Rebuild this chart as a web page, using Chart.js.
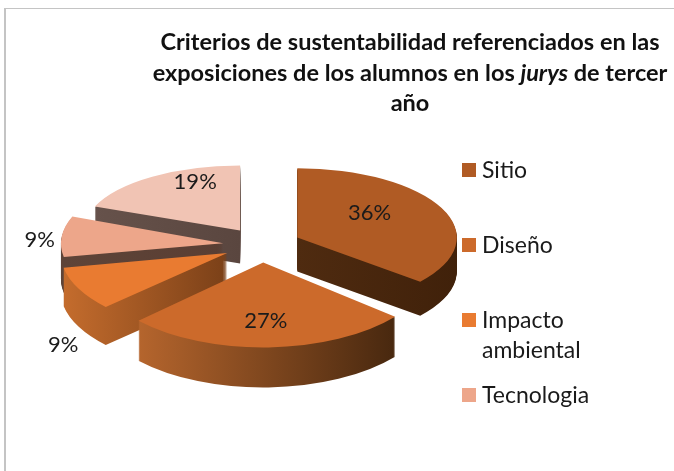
<!DOCTYPE html>
<html>
<head>
<meta charset="utf-8">
<script src="https://cdn.jsdelivr.net/npm/chart.js@4.4.1/dist/chart.umd.min.js"></script>
<style>
  html, body { margin: 0; padding: 0; background: #fff; }
  #wrap { position: relative; width: 674px; height: 471px; }
</style>
</head>
<body>
<div id="wrap"><canvas id="chart" width="674" height="471"></canvas></div>
<script>
// data
const categories = ["Sitio", "Diseño", "Impacto ambiental", "Tecnologia", ""];
const values = [36, 27, 9, 9, 19];
const titleLines = [
  [["Criterios de sustentabilidad referenciados en las", false]],
  [["exposiciones de los alumnos en los ", false], ["jurys", true], [" de tercer", false]],
  [["año", false]]
];

// styles
const topColors = ["#b05b24", "#cc6a2b", "#e97b31", "#eda68a", "#f1c4b4"];
const sideColors = [
  ["#4f2b10", "#40210a"],
  ["#b5652d", "#48280f"],
  ["#c46c2d", "#7a4018"],
  ["#5e4438", "#5a3e33"],
  ["#66524b", "#5a463f"]
];
const FONT = "Lato, 'Open Sans', sans-serif";
const TILT = 0.45;
const DEPTH = 36;
const EXPLODE = 39;
const RADIUS = 163;

function midAngle(arc) {
  return (arc.startAngle + arc.endAngle) / 2;
}

function drawArc(ctx, arc, color) {
  const shade = Object.create(arc);
  shade.options = Object.assign({}, arc.options, { backgroundColor: color, borderWidth: 0, offset: 0 });
  arc.draw.call(shade, ctx);
}

const pie3d = {
  id: "pie3d",
  beforeDraw(chart) {
    const ctx = chart.ctx;
    ctx.save();
    ctx.fillStyle = "#c4c4c4";
    ctx.fillRect(4, 8, 2, chart.height);
    ctx.fillRect(4, 8, chart.width, 1);
    ctx.restore();
  },
  beforeDatasetsDraw(chart) {
    const ctx = chart.ctx;
    const arcs = chart.getDatasetMeta(0).data;
    const area = chart.chartArea;
    const cy = (area.top + area.bottom) / 2;
    const order = arcs.map((a, i) => i)
      .sort((i, j) => Math.sin(midAngle(arcs[i])) - Math.sin(midAngle(arcs[j])));

    order.forEach(i => {
      const arc = arcs[i];
      const m = midAngle(arc);
      const s = Math.sin(m);
      const ex = Math.cos(m) * EXPLODE;
      const ey = s * EXPLODE * TILT;
      // rough perspective: slices nearer the viewer look a little larger
      const sx = 1 + 0.05 * s;
      const sy = (74 + 11 * s) / RADIUS;
      const depth = Math.round(DEPTH + 4 * s);

      // horizontal extent of the slice for the side gradient
      let x0 = arc.x, x1 = arc.x;
      for (let k = 0; k <= 40; k++) {
        const t = arc.startAngle + (arc.endAngle - arc.startAngle) * k / 40;
        const x = arc.x + arc.outerRadius * Math.cos(t);
        x0 = Math.min(x0, x);
        x1 = Math.max(x1, x);
      }
      const grad = ctx.createLinearGradient(x0, 0, x1, 0);
      grad.addColorStop(0, sideColors[i][0]);
      grad.addColorStop(1, sideColors[i][1]);

      for (let d = depth; d >= 0; d--) {
        ctx.save();
        ctx.translate(arc.x + ex, cy + ey + d);
        ctx.scale(sx, sy);
        ctx.translate(-arc.x, -cy);
        drawArc(ctx, arc, d === 0 ? topColors[i] : grad);
        ctx.restore();
      }
    });
    return false;
  },
  afterDraw(chart) {
    const ctx = chart.ctx;
    const arcs = chart.getDatasetMeta(0).data;
    const area = chart.chartArea;
    const cy = (area.top + area.bottom) / 2;

    // percentage labels
    ctx.save();
    ctx.fillStyle = "#1b1b1b";
    ctx.font = "22px " + FONT;
    ctx.textAlign = "center";
    ctx.textBaseline = "middle";
    arcs.forEach((arc, i) => {
      const m = midAngle(arc);
      const bx = arc.x + Math.cos(m) * EXPLODE;
      const by = cy + Math.sin(m) * EXPLODE * TILT;
      let x, y;
      if (values[i] >= 10) {
        x = bx + Math.cos(m) * arc.outerRadius * 0.49;
        y = by + Math.sin(m) * arc.outerRadius * TILT * 0.8;
      } else {
        x = bx + Math.cos(m) * arc.outerRadius * 1.13;
        y = by + Math.sin(m) * arc.outerRadius * 1.07 + 13;
      }
      ctx.fillText(values[i] + "%", x, y);
    });
    ctx.restore();

    // legend (items without a name are not listed)
    ctx.save();
    ctx.font = "23px " + FONT;
    ctx.textAlign = "left";
    ctx.textBaseline = "alphabetic";
    let n = 0;
    categories.forEach((name, i) => {
      if (!name) return;
      const yc = 170 + n * 75;
      ctx.fillStyle = topColors[i];
      ctx.fillRect(462, yc - 7, 14, 14);
      ctx.fillStyle = "#1a1a1a";
      const lines = [];
      let cur = "";
      name.split(" ").forEach(w => {
        const test = cur ? cur + " " + w : w;
        if (cur && ctx.measureText(test).width > 170) {
          lines.push(cur);
          cur = w;
        } else {
          cur = test;
        }
      });
      lines.push(cur);
      lines.forEach((l, k) => ctx.fillText(l, 482, yc + 8 + k * 30));
      n++;
    });
    ctx.restore();

    // title with an italic word
    ctx.save();
    ctx.fillStyle = "#111";
    ctx.textBaseline = "alphabetic";
    ctx.textAlign = "left";
    const fontOf = it => (it ? "italic " : "") + "bold 23.5px " + FONT;
    titleLines.forEach((parts, k) => {
      let w = 0;
      parts.forEach(([t, it]) => { ctx.font = fontOf(it); w += ctx.measureText(t).width; });
      let x = 410 - w / 2;
      parts.forEach(([t, it]) => {
        ctx.font = fontOf(it);
        ctx.fillText(t, x, 50 + k * 30.5);
        x += ctx.measureText(t).width;
      });
    });
    ctx.restore();
  }
};

new Chart(document.getElementById("chart"), {
  type: "pie",
  data: {
    labels: categories,
    datasets: [{
      data: values,
      backgroundColor: topColors,
      borderWidth: 0,
      radius: RADIUS
    }]
  },
  options: {
    responsive: false,
    animation: false,
    layout: { padding: { left: 30, right: 180, top: 40, bottom: 21 } },
    plugins: {
      legend: { display: false },
      title: { display: false },
      tooltip: { enabled: false }
    }
  },
  plugins: [pie3d]
});
</script>
</body>
</html>
